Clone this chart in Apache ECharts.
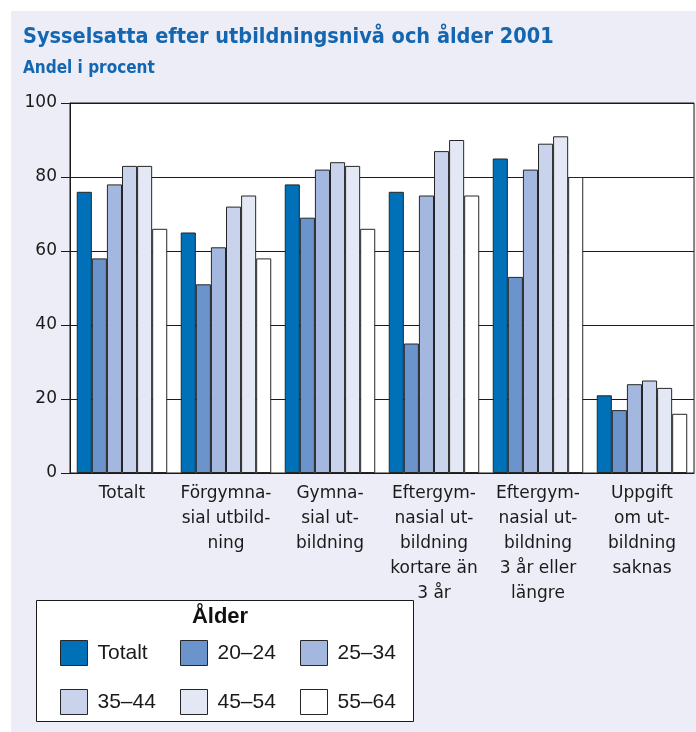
<!DOCTYPE html>
<html lang="sv">
<head>
    <meta charset="UTF-8">
    <title>Sysselsatta efter utbildningsnivå och ålder 2001</title>
    <script src="https://cdn.jsdelivr.net/npm/echarts@6/dist/echarts.min.js"></script>
    <style>
        body { margin: 0; background: #fff; }
    </style>
</head>
<body>
    <div style="width: 696px; height: 732px" id="main"></div>
    <script type="text/javascript">
        // kategorier (utbildningsnivå)
        var categories = [
            'Totalt',
            'Förgymna-\nsial utbild-\nning',
            'Gymna-\nsial ut-\nbildning',
            'Eftergym-\nnasial ut-\nbildning\nkortare än\n3 år',
            'Eftergym-\nnasial ut-\nbildning\n3 år eller\nlängre',
            'Uppgift\nom ut-\nbildning\nsaknas'
        ];
        var ageGroups = ['Totalt', '20–24', '25–34', '35–44', '45–54', '55–64'];
        var yTicks = [0, 20, 40, 60, 80, 100];

        // andel i procent per åldersgrupp
        var totalt = [76, 65, 78, 76, 85, 21];
        var age2024 = [58, 51, 69, 35, 53, 17];
        var age2534 = [78, 61, 82, 75, 82, 24];
        var age3544 = [83, 72, 84, 87, 89, 25];
        var age4554 = [83, 75, 83, 90, 91, 23];
        var age5564 = [66, 58, 66, 75, 80, 16];

        var seriesData = [totalt, age2024, age2534, age3544, age4554, age5564];
        var colors = ['#0070b8', '#6a94cb', '#a4b8df', '#cad3ec', '#e4e7f4', '#ffffff'];

        var labelFont = 'DejaVu Sans';
        var titleFont = "'Liberation Sans Narrow', 'DejaVu Sans Condensed', 'Liberation Sans', sans-serif";

        var myChart = echarts.init(document.getElementById('main'));

        var series = ageGroups.map(function (name, i) {
            return {
                name: name,
                type: 'bar',
                barGap: 0,
                barCategoryGap: '13%',
                itemStyle: {
                    color: colors[i],
                    borderColor: '#262626',
                    borderWidth: 1
                },
                data: seriesData[i]
            };
        });

        // en legend per ruta, tre kolumner och två rader i rutan
        var legends = ageGroups.map(function (name, i) {
            return {
                left: 55 + (i % 3) * 120,
                top: 635 + Math.floor(i / 3) * 49,
                padding: 5,
                z: 12,
                itemWidth: 27,
                itemHeight: 25,
                icon: 'rect',
                selectedMode: false,
                itemStyle: { borderColor: '#262626', borderWidth: 1 },
                textStyle: {
                    fontFamily: 'Liberation Sans',
                    fontSize: 21,
                    color: '#1a1a1a',
                    padding: [0, 0, 0, 5]
                },
                data: [name]
            };
        });

        var option = {
            animation: false,
            backgroundColor: '#ffffff',
            title: [{
                text: 'Sysselsatta efter utbildningsnivå och ålder 2001',
                left: 18,
                top: 21,
                textStyle: { fontFamily: titleFont, fontWeight: 'bold', fontSize: 21.5, color: '#1466b0' }
            }, {
                text: 'Andel i procent',
                left: 18,
                top: 55,
                textStyle: { fontFamily: titleFont, fontWeight: 'bold', fontSize: 17, color: '#1466b0' }
            }],
            graphic: [{
                type: 'rect',
                z: -10,
                silent: true,
                shape: { x: 11, y: 11, width: 700, height: 740 },
                style: { fill: '#ecedf6' }
            }, {
                type: 'rect',
                z: 10,
                silent: true,
                shape: { x: 36.5, y: 600.5, width: 377, height: 121 },
                style: { fill: '#ffffff', stroke: '#1a1a1a', lineWidth: 1 }
            }, {
                type: 'text',
                z: 11,
                silent: true,
                x: 220,
                y: 617,
                style: {
                    text: 'Ålder',
                    align: 'center',
                    verticalAlign: 'middle',
                    font: 'bold 22px Liberation Sans',
                    fill: '#111'
                }
            }],
            legend: legends,
            grid: {
                left: 70,
                top: 103,
                width: 624,
                height: 370,
                show: true,
                backgroundColor: '#ffffff',
                borderColor: '#1a1a1a',
                borderWidth: 1
            },
            xAxis: {
                type: 'category',
                data: categories,
                axisTick: { show: false },
                axisLine: { lineStyle: { color: '#1a1a1a', width: 1 } },
                axisLabel: {
                    interval: 0,
                    margin: 8,
                    fontFamily: labelFont,
                    fontSize: 17,
                    lineHeight: 25,
                    color: '#1a1a1a'
                }
            },
            yAxis: {
                type: 'value',
                min: yTicks[0],
                max: yTicks[yTicks.length - 1],
                interval: 20,
                axisLine: { show: true, lineStyle: { color: '#1a1a1a', width: 1 } },
                axisTick: { show: true, length: 9, lineStyle: { color: '#1a1a1a' } },
                splitLine: { lineStyle: { color: '#1a1a1a', width: 1 } },
                axisLabel: {
                    margin: 13,
                    fontFamily: labelFont,
                    fontSize: 17,
                    color: '#1a1a1a'
                }
            },
            series: series
        };

        myChart.setOption(option);
    </script>
</body>
</html>
